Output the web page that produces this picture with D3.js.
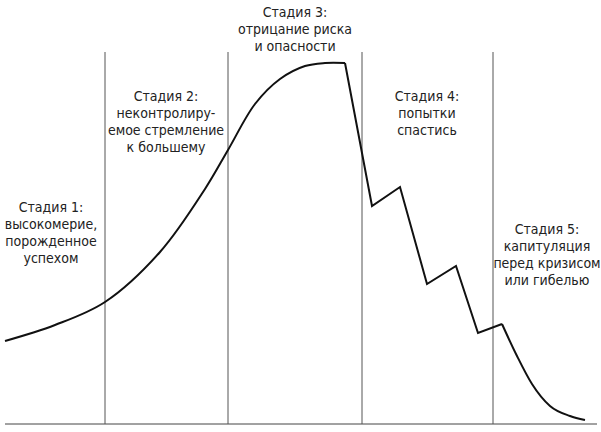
<!DOCTYPE html>
<html><head><meta charset="utf-8">
<script src="https://cdn.jsdelivr.net/npm/d3@7"></script>
<style>body{margin:0;background:#fff}</style>
</head><body><div id="chart"></div>
<script>
// curve in abstract units: x = time (0..592), y = level above baseline
const riseX = [0, 50, 100, 155, 200, 223, 250, 275, 300, 320, 340];
const riseY = [83, 99, 122, 172, 235, 274, 320, 345, 358, 361, 361];
const fallX = [340, 367, 395, 422, 451, 473, 497];
const fallY = [361, 218, 237, 140, 158, 91, 100];
const tailX = [497, 512, 527, 545, 565, 580];
const tailY = [100, 68, 40, 18, 8, 4];
const dividers = [100, 223, 357, 488];
const labelX = [46, 161, 290, 422, 542];
const labels = [
  ["Стадия 1:", "высокомерие,", "порожденное", "успехом"],
  ["Стадия 2:", "неконтролиру-", "емое стремление", "к большему"],
  ["Стадия 3:", "отрицание риска", "и опасности"],
  ["Стадия 4:", "попытки", "спастись"],
  ["Стадия 5:", "капитуляция", "перед кризисом", "или гибелью"]
];
const labelTop = [207, 96, 12, 96, 229];

const margin = {top: 0, right: 4, bottom: 8, left: 5},
    width = 601 - margin.left - margin.right,
    height = 432 - margin.top - margin.bottom;

const svg = d3.select("#chart").append("svg")
    .attr("width", 601).attr("height", 432)
  .append("g")
    .attr("transform", `translate(${margin.left},${margin.top})`);

const x = d3.scaleLinear().domain([0, 592]).range([0, 592]);
const y = d3.scaleLinear().domain([0, 424]).range([height, 0]);

// baseline
svg.append("line")
  .attr("x1", x(0)).attr("x2", x(592))
  .attr("y1", y(0)).attr("y2", y(0))
  .attr("stroke", "#444").attr("stroke-width", 1);

// stage dividers
svg.selectAll(".div").data(dividers).enter().append("line")
  .attr("x1", d => x(d)).attr("x2", d => x(d))
  .attr("y1", y(0)).attr("y2", y(372))
  .attr("stroke", "#555").attr("stroke-width", 1);

const rise = d3.line().x(d => x(d[0])).y(d => y(d[1])).curve(d3.curveCatmullRom);
const smooth = d3.line().x(d => x(d[0])).y(d => y(d[1])).curve(d3.curveMonotoneX);
const straight = d3.line().x(d => x(d[0])).y(d => y(d[1]));

[[riseX, riseY, rise], [fallX, fallY, straight], [tailX, tailY, smooth]].forEach(s => {
  svg.append("path")
    .attr("d", s[2](d3.zip(s[0], s[1])))
    .attr("fill", "none").attr("stroke", "#111")
    .attr("stroke-width", 2).attr("stroke-linejoin", "miter");
});

labels.forEach((lines, i) => {
  svg.append("text")
    .attr("text-anchor", "middle")
    .attr("font-family", "'Liberation Sans Narrow', 'DejaVu Sans Condensed', sans-serif")
    .attr("font-size", 14).attr("fill", "#222")
    .selectAll("tspan").data(lines).enter().append("tspan")
    .attr("x", labelX[i])
    .attr("y", (d, j) => labelTop[i] + 5 + j * 17)
    .text(d => d);
});
</script></body></html>
